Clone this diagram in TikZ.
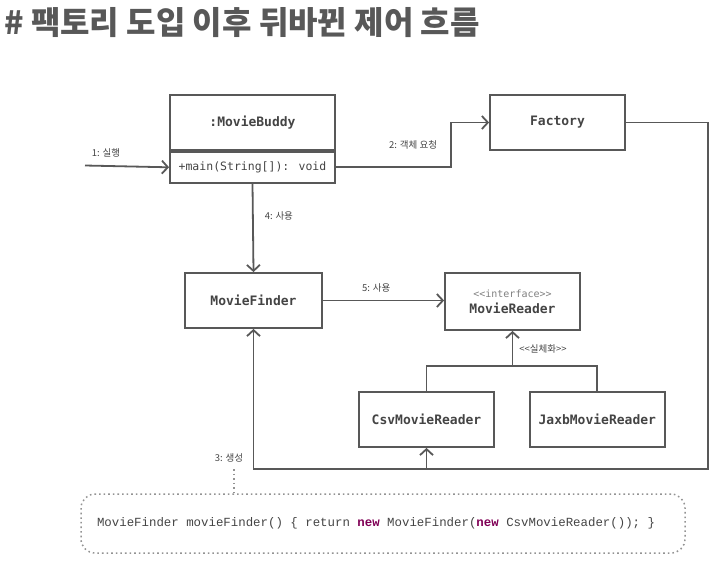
\documentclass[tikz,border=0pt]{standalone}
\usepackage{fontspec}
\usepackage{xcolor}
\usetikzlibrary{arrows.meta,positioning}
\newfontfamily\krfont{Noto Sans CJK KR}
\newfontfamily\clsfont{DejaVu Sans Mono}
\newfontfamily\codefont{Liberation Mono}
\definecolor{linegray}{RGB}{88,88,88}
\definecolor{textgray}{RGB}{68,68,68}
\definecolor{kwpurple}{RGB}{127,0,85}
\newcommand{\kw}[1]{\textcolor{kwpurple}{\bfseries #1}}

\begin{document}
\begin{tikzpicture}[x=1pt, y=-1pt,
  cls/.style={draw=linegray, line width=1.8pt, minimum width=135pt, minimum height=55pt,
              inner sep=0pt, text=textgray, font=\clsfont\bfseries\fontsize{13}{15}\selectfont},
  lbl/.style={text=textgray, inner sep=1pt, font=\krfont\fontsize{9.5}{10}\selectfont},
  arr/.style={draw=linegray, line width=1.8pt, -{Straight Barb[length=6pt, width=13pt]}},
  link/.style={draw=linegray, line width=1.8pt},
  dotline/.style={draw=gray!85, line width=1.5pt, dash pattern=on 1.6pt off 3pt}
]
\useasboundingbox (0,0) rectangle (720,568);

% title
\node[anchor=west, inner sep=0pt, text=linegray, font=\krfont\bfseries\fontsize{32}{36}\selectfont]
  (title) at (4,23) {\# 팩토리 도입 이후 뒤바뀐 제어 흐름};

% classes
\node[cls, minimum width=165pt] (buddy) at (252.5,122.5) {:MovieBuddy};
\node[cls, minimum width=165pt, minimum height=31pt, below=0pt of buddy,
      font=\clsfont\fontsize{11.5}{13}\selectfont] (buddymain) {+main(String[]): void};
\node[cls] (factory) at (557.5,122.5) {Factory};
\node[cls, minimum width=137pt] (mfinder) at (253.5,300.5) {MovieFinder};
\node[cls, minimum height=57pt, align=center] (mreader) at (512.5,301.5)
  {{\clsfont\mdseries\color{gray}\fontsize{10}{11}\selectfont <<interface>>}\\[1pt] MovieReader};
\node[cls] (csv) at (426.5,419.5) {CsvMovieReader};
\node[cls, right=34pt of csv] (jaxb) {JaxbMovieReader};

% code note
\node[dotline, rounded corners=14pt, minimum width=604pt, minimum height=59pt,
      inner xsep=16pt, text width=572pt, align=left, text=textgray,
      font=\codefont\fontsize{12.4}{14}\selectfont] (code) at (383,523.5)
  {\spaceskip=7.44pt\relax MovieFinder movieFinder() \{ return \kw{new} MovieFinder(\kw{new} CsvMovieReader()); \}};

\coordinate (start) at (85,165.5);
\coordinate (turn) at (708,469);
\coordinate (gen) at (234,469);
\coordinate (real) at (512.5,366);

% flow
\draw[arr] (start) -- node[lbl, pos=0.25, above=7pt] {1: 실행} (buddymain.west);
\draw[arr] (buddymain.east) -- ++(115,0) |- node[lbl, pos=0.25, left=12pt] {2: 객체 요청} (factory.west);
\draw[arr] (factory.east) -| (turn) -| (mfinder.south);
\draw[arr] (csv.south |- turn) -- (csv.south);
\draw[arr] (buddymain.south) -- node[lbl, pos=0.36, right=10pt] {4: 사용} (mfinder.north);
\draw[arr] (mfinder.east) -- node[lbl, pos=0.44, above=6pt] {5: 사용} (mreader.west |- mfinder.east);
\draw[link] (csv.north) |- (real) -| (jaxb.north);
\draw[arr] (real) -- node[lbl, pos=0.5, right=5pt] {<<실체화>>} (mreader.south);
\draw[dotline] (gen) node[lbl, above=5pt, xshift=-5pt] {3: 생성} -- (gen |- code.north);
\end{tikzpicture}
\end{document}
